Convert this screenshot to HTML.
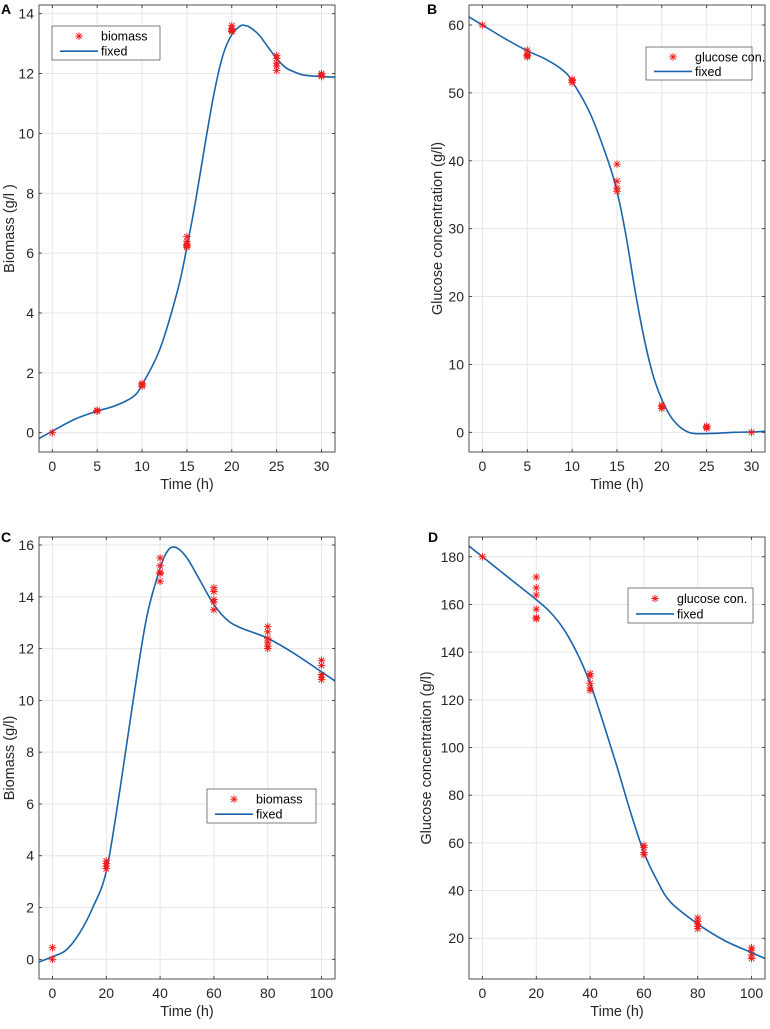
<!DOCTYPE html>
<html><head><meta charset="utf-8"><style>
body{margin:0;background:#fff;}
svg{display:block;font-family:"Liberation Sans",Arial,sans-serif;}
</style></head><body>
<svg id="fig" width="770" height="1029" viewBox="0 0 770 1029"></svg>
<script>
// ---- Panel A data ----
const aCurveT=[-1.5,0,2.5,5,7,9,10,12,14,15,16,17,18,19,20,21,21.5,22,23,24,25,26,27,28,30,31.5];
const aCurveY=[-0.2,0.05,0.45,0.72,0.9,1.2,1.6,2.8,4.8,6.2,7.8,9.6,11.3,12.6,13.3,13.6,13.6,13.55,13.3,12.9,12.5,12.2,12.05,11.95,11.9,11.88];
const aDataT=[0,5,5,5,10,10,10,15,15,15,15,15,20,20,20,20,25,25,25,25,25,30,30,30];
const aDataY=[0,0.72,0.75,0.73,1.55,1.6,1.65,6.2,6.3,6.4,6.55,6.25,13.4,13.5,13.6,13.45,12.1,12.25,12.35,12.5,12.6,11.9,11.95,12.0];
const aXTicks=[0,5,10,15,20,25,30];
const aYTicks=[0,2,4,6,8,10,12,14];
// ---- Panel B data ----
const bCurveT=[-1.5,0,2.5,5,7,9,10,12,14,15,16,17,18,19,20,21,22,23,24,26,28,30,31.5];
const bCurveY=[61.2,60,58,56.2,55,53.3,51.7,47,40,35.5,29,21,14,8.5,4.8,2.3,0.8,0,-0.2,-0.15,0,0.05,0.15];
const bDataT=[0,5,5,5,5,10,10,10,15,15,15,15,20,20,20,25,25,25,30];
const bDataY=[60,55.3,55.7,56.3,55.5,51.5,51.8,52,35.5,36,37,39.5,3.5,3.8,4.0,0.6,0.8,0.9,0];
const bXTicks=[0,5,10,15,20,25,30];
const bYTicks=[0,10,20,30,40,50,60];
// ---- Panel C data ----
const cCurveT=[-5,0,5,10,15,20,25,30,35,40,43,46,50,55,60,65,70,80,90,100,105];
const cCurveY=[-0.1,0.1,0.35,1.0,2.0,3.4,6.5,10,13.2,15.1,15.8,15.9,15.5,14.6,13.7,13.1,12.8,12.4,11.8,11.1,10.75];
const cDataT=[0,0,20,20,20,20,40,40,40,40,40,60,60,60,60,60,80,80,80,80,80,80,100,100,100,100,100];
const cDataY=[0.45,0.0,3.5,3.6,3.7,3.8,14.6,14.9,15.2,15.5,14.95,13.5,13.8,13.9,14.2,14.35,12.0,12.1,12.25,12.4,12.65,12.85,10.8,10.9,11.0,11.35,11.55];
const cXTicks=[0,20,40,60,80,100];
const cYTicks=[0,2,4,6,8,10,12,14,16];
// ---- Panel D data ----
const dCurveT=[-5,0,10,20,25,30,35,40,45,50,55,60,65,70,80,90,100,105];
const dCurveY=[184.5,180,171,162,157,150,140,127,110,92,73,56,44,35,26,19,14,11.5];
const dDataT=[0,20,20,20,20,20,20,40,40,40,40,40,60,60,60,60,80,80,80,80,80,100,100,100,100];
const dDataY=[180,154,154.5,158,164,167,171.5,124,125,127,130,131,55,56,58,59,24,25,26,27,28.5,11.5,13,15,16];
const dXTicks=[0,20,40,60,80,100];
const dYTicks=[20,40,60,80,100,120,140,160,180];

const NS="http://www.w3.org/2000/svg";
const svg=document.getElementById('fig');
function mk(tag,attrs,parent){const e=document.createElementNS(NS,tag);for(const k in attrs)e.setAttribute(k,attrs[k]);(parent||svg).appendChild(e);return e;}

function star(g,x,y){
  const s=3.8;
  const p=mk('path',{d:`M${x-s},${y}H${x+s}M${x},${y-s}V${y+s}M${x-s*0.72},${y-s*0.72}L${x+s*0.72},${y+s*0.72}M${x-s*0.72},${y+s*0.72}L${x+s*0.72},${y-s*0.72}`,stroke:'#f01818','stroke-width':0.9},g);
  
  
}

function panel(o){
  const g=mk('g',{});
  
  
  const X=v=>o.L+(v-o.xmin)/(o.xmax-o.xmin)*(o.R-o.L);
  const Y=v=>o.B-(v-o.ymin)/(o.ymax-o.ymin)*(o.B-o.T);
  mk('rect',{x:o.L,y:o.T,width:o.R-o.L,height:o.B-o.T,fill:'#fff'},g);
  o.xt.forEach(v=>{const l=mk('line',{x1:X(v),x2:X(v),y1:o.T,y2:o.B,stroke:'#e6e6e6','stroke-width':1},g);});
  o.yt.forEach(v=>{const l=mk('line',{x1:o.L,x2:o.R,y1:Y(v),y2:Y(v),stroke:'#e6e6e6','stroke-width':1},g);});
  const pts=o.ct.map((t,i)=>[X(t),Y(o.cy[i])]);
  let d=`M${pts[0][0]},${pts[0][1]}`;
  for(let i=0;i<pts.length-1;i++){
    const p0=pts[Math.max(0,i-1)],p1=pts[i],p2=pts[i+1],p3=pts[Math.min(pts.length-1,i+2)];
    d+=`C${p1[0]+(p2[0]-p0[0])/6},${p1[1]+(p2[1]-p0[1])/6} ${p2[0]-(p3[0]-p1[0])/6},${p2[1]-(p3[1]-p1[1])/6} ${p2[0]},${p2[1]}`;
  }
  const cp=mk('clipPath',{id:'clip'+o.letter},g);
  mk('rect',{x:o.L,y:o.T,width:o.R-o.L,height:o.B-o.T},cp);
  const path=mk('path',{d:d,fill:'none',stroke:'#1a64ab','stroke-width':1.6,'clip-path':`url(#clip${o.letter})`},g);
  
  
  o.dt.forEach((t,i)=>star(g,X(t),Y(o.dy[i])));
  mk('rect',{x:o.L,y:o.T,width:o.R-o.L,height:o.B-o.T,fill:'none',stroke:'#262626','stroke-width':0.8},g);
  o.xt.forEach(v=>{
    mk('line',{x1:X(v),x2:X(v),y1:o.B,y2:o.B-3,stroke:'#262626','stroke-width':0.8},g);
    mk('line',{x1:X(v),x2:X(v),y1:o.T,y2:o.T+3,stroke:'#262626','stroke-width':0.8},g);
    const t=mk('text',{x:X(v),y:o.B+19,'text-anchor':'middle','font-size':14,fill:'#262626'},g);t.textContent=v;
    
  });
  o.yt.forEach(v=>{
    mk('line',{x1:o.L,x2:o.L+3,y1:Y(v),y2:Y(v),stroke:'#262626','stroke-width':0.8},g);
    mk('line',{x1:o.R,x2:o.R-3,y1:Y(v),y2:Y(v),stroke:'#262626','stroke-width':0.8},g);
    const t=mk('text',{x:o.L-5,y:Y(v)+5,'text-anchor':'end','font-size':14,fill:'#262626'},g);t.textContent=v;
    
  });
  const xl=mk('text',{x:(o.L+o.R)/2,y:o.B+37,'text-anchor':'middle','font-size':14.5,fill:'#262626'},g);xl.textContent='Time (h)';
  
  const yx=o.ylx, yy=(o.T+o.B)/2;
  const yl=mk('text',{x:yx,y:yy,'text-anchor':'middle','font-size':14.5,fill:'#262626',transform:`rotate(-90 ${yx} ${yy})`},g);yl.textContent=o.ylabel;
  
  const lt=mk('text',{x:o.lx,y:o.ly,'font-size':14,'font-weight':'bold',fill:'#000'},g);lt.textContent=o.letter;
  
  const lg=mk('g',{},g);
  
  
  const [x0,y0,x1,y1]=o.leg;
  mk('rect',{x:x0,y:y0,width:x1-x0,height:y1-y0,fill:'#fff',stroke:'#262626','stroke-width':0.6},lg);
  const h=(y1-y0);
  star(lg,x0+27,y0+h*0.3);
  mk('line',{x1:x0+8,x2:x0+46,y1:y0+h*0.74,y2:y0+h*0.74,stroke:'#1a64ab','stroke-width':1.6},lg);
  const t1=mk('text',{x:x0+49,y:y0+h*0.3+4.5,'font-size':12.5,fill:'#000'},lg);t1.textContent=o.series;
  
  const t2=mk('text',{x:x0+49,y:y0+h*0.74+4.5,'font-size':12.5,fill:'#000'},lg);t2.textContent='fixed';
  
}

panel({letter:'A',L:39,R:335,T:5,B:452,xmin:-1.48,xmax:31.5,ymin:-0.645,ymax:14.29,ct:aCurveT,cy:aCurveY,dt:aDataT,dy:aDataY,xt:aXTicks,yt:aYTicks,ylabel:'Biomass (g/l\u00a0)',ylx:14,lx:1,ly:14,leg:[52,26,160,60],series:'biomass'});
panel({letter:'B',L:469,R:765,T:5,B:452,xmin:-1.5,xmax:31.5,ymin:-2.9,ymax:62.95,ct:bCurveT,cy:bCurveY,dt:bDataT,dy:bDataY,xt:bXTicks,yt:bYTicks,ylabel:'Glucose concentration (g/l)',ylx:442,lx:427,ly:14,leg:[646,47,752,80],series:'glucose con.'});
panel({letter:'C',L:39,R:335,T:537,B:979,xmin:-5,xmax:105,ymin:-0.76,ymax:16.31,ct:cCurveT,cy:cCurveY,dt:cDataT,dy:cDataY,xt:cXTicks,yt:cYTicks,ylabel:'Biomass (g/l)',ylx:14,lx:1,ly:542,leg:[207,789,316,823],series:'biomass'});
panel({letter:'D',L:469,R:765,T:537,B:979,xmin:-5,xmax:105,ymin:2.9,ymax:188.3,ct:dCurveT,cy:dCurveY,dt:dDataT,dy:dDataY,xt:dXTicks,yt:dYTicks,ylabel:'Glucose concentration (g/l)',ylx:431,lx:428,ly:542,leg:[628,588,753,623],series:'glucose con.'});
</script>
</body></html>
